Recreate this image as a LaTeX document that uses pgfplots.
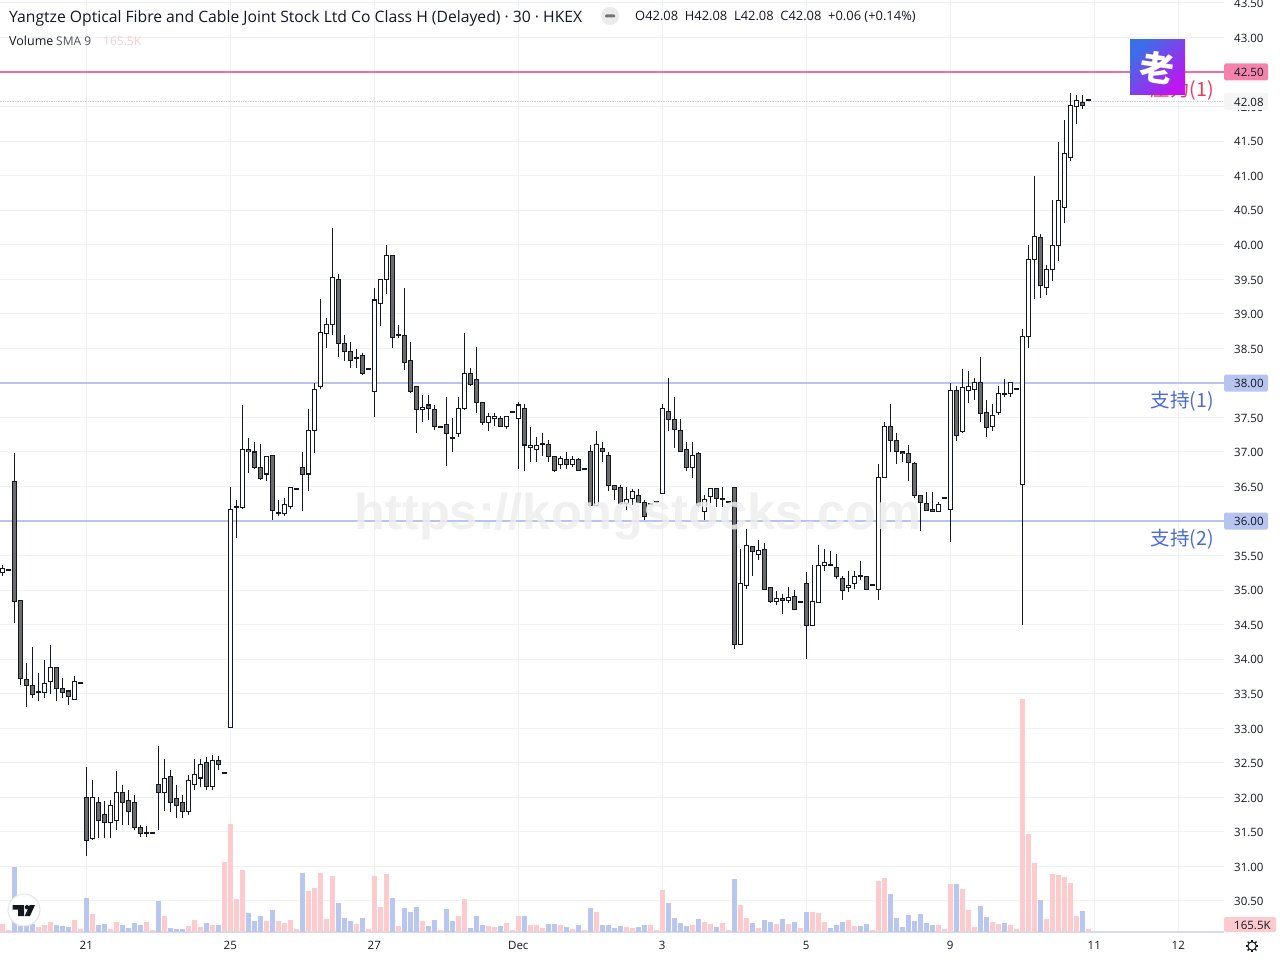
\documentclass[border=0pt]{standalone}
\usepackage{pgfplots}
\usepackage{pgfplotstable}
\usepackage{fontspec}
\pgfplotsset{compat=1.18}
\setmainfont{Open Sans}
\newfontfamily\cjk{Noto Sans CJK SC}
\newfontfamily\wm{Liberation Sans}
\definecolor{gridc}{HTML}{F0F1F4}
\definecolor{ink}{HTML}{131722}
\definecolor{bodyd}{HTML}{6B6B6B}
\definecolor{volup}{HTML}{FDCACE}
\definecolor{voldn}{HTML}{B9C7F0}
\definecolor{res}{HTML}{F26D9C}
\definecolor{sup}{HTML}{B8C4F0}
\definecolor{suptxt}{HTML}{4A6BD6}
\pgfplotstableread{
k lo hi l h
0 35.26 35.32 35.21 35.36
1 35.28 35.295 35.28 35.295
7 33.52 33.65 33.44 33.99
8 33.68 33.88 33.50 34.20
12 33.42 33.68 33.42 33.75
13 33.65 33.665 33.65 33.665
15 31.40 32.00 31.39 32.25
18 31.63 31.88 31.41 31.96
19 31.67 32.07 31.53 32.38
24 31.48 31.495 31.42 31.59
25 31.48 31.495 31.48 31.495
27 32.07 32.28 31.80 32.55
31 31.80 32.24 31.75 32.33
32 32.18 32.33 32.10 32.55
33 32.28 32.47 32.15 32.55
35 32.15 32.54 32.10 32.62
37 32.34 32.355 32.34 32.355
38 33.01 36.17 33.01 36.49
39 36.20 36.215 35.75 36.30
40 36.20 37.04 36.17 37.68
44 36.68 36.94 36.58 36.94
46 36.11 36.125 36.07 36.31
47 36.11 36.24 36.07 36.33
48 36.21 36.49 36.18 36.49
49 36.46 36.475 36.46 36.475
51 36.68 37.31 36.43 37.62
52 37.31 37.91 36.99 38.00
53 37.94 38.73 37.91 39.21
54 38.72 38.84 38.50 38.94
55 38.84 39.52 38.70 40.24
61 38.20 38.215 38.20 38.215
62 37.88 39.20 37.50 39.37
63 39.15 39.49 38.83 39.49
64 39.49 39.85 39.28 40.00
66 38.68 38.695 38.65 38.84
70 37.62 37.65 37.43 37.82
73 37.36 37.375 37.36 37.375
76 37.26 37.63 37.21 37.79
77 37.63 38.14 37.60 38.72
81 37.42 37.52 37.31 37.56
82 37.49 37.52 37.37 37.56
84 37.37 37.52 37.33 37.52
85 37.57 37.585 37.57 37.585
86 37.49 37.68 36.75 37.73
88 37.07 37.10 36.86 37.36
89 37.04 37.10 36.85 37.21
90 37.11 37.125 36.94 37.27
93 36.82 36.91 36.76 36.94
95 36.82 36.89 36.78 36.94
97 36.75 36.765 36.75 36.765
99 36.23 37.11 36.20 37.30
104 36.25 36.31 36.16 36.49
105 36.33 36.43 36.23 36.46
108 36.24 36.255 36.24 36.255
109 36.27 36.285 36.27 36.285
110 36.40 37.63 36.39 37.69
115 36.78 36.95 36.63 37.15
117 36.14 36.31 36.01 36.37
118 36.36 36.47 36.26 36.47
120 36.31 36.325 36.21 36.49
121 36.27 36.285 36.27 36.285
123 34.21 35.10 34.21 35.59
124 35.07 35.65 35.01 35.89
126 35.52 35.57 35.44 35.73
129 34.84 34.88 34.79 34.98
131 34.85 34.89 34.81 35.04
133 34.82 34.835 34.82 34.835
135 34.49 34.84 34.49 35.37
136 34.82 35.36 34.81 35.65
137 35.36 35.40 35.27 35.59
141 35.04 35.07 34.97 35.27
142 35.10 35.20 35.02 35.27
145 35.07 35.085 35.07 35.085
146 35.01 36.63 34.86 36.82
147 36.63 37.37 36.63 37.43
156 36.14 36.24 36.14 36.27
157 36.33 36.345 36.33 36.345
158 36.17 37.89 35.70 38.00
160 37.29 37.94 37.27 38.20
161 37.89 37.95 37.71 38.17
162 37.91 38.01 37.75 38.07
165 37.37 37.53 37.31 37.69
166 37.57 37.85 37.53 37.95
168 37.85 38.00 37.80 38.00
169 37.91 37.925 37.91 37.925
170 36.53 38.67 34.49 38.78
171 38.67 39.78 38.51 39.99
172 39.78 40.12 39.21 41.00
174 39.38 39.64 39.27 39.70
175 39.64 39.99 39.48 40.64
176 39.99 40.64 39.76 41.48
177 40.54 41.32 40.32 41.80
178 41.26 42.01 41.21 42.20
179 42.00 42.09 41.75 42.16
181 42.08 42.095 42.08 42.095
}\upcandles
\pgfplotstableread{
k lo hi l h
2 34.83 36.57 34.53 36.99
3 33.72 34.85 33.63 34.85
4 33.62 33.70 33.31 33.95
5 33.49 33.62 33.44 34.18
6 33.52 33.535 33.39 33.80
9 33.57 33.88 33.39 33.88
10 33.52 33.58 33.44 33.73
11 33.46 33.54 33.34 33.54
14 31.37 32.00 31.15 32.44
16 31.67 31.92 31.41 32.00
17 31.63 31.75 31.41 31.95
20 31.92 32.07 31.60 32.18
21 31.79 31.96 31.60 32.11
22 31.57 31.92 31.53 32.04
23 31.48 31.57 31.42 31.60
26 32.07 32.18 31.53 32.75
28 31.92 32.30 31.79 32.40
29 31.88 31.99 31.70 32.18
30 31.79 31.92 31.70 32.04
34 32.15 32.50 32.10 32.58
36 32.47 32.54 32.40 32.60
41 37.00 37.04 36.70 37.20
42 36.77 37.00 36.76 37.15
43 36.62 36.78 36.60 37.12
45 36.15 36.95 36.01 36.95
50 36.68 36.78 36.15 37.00
56 38.57 39.49 38.38 39.57
57 38.46 38.57 38.31 38.69
58 38.33 38.46 38.21 38.59
59 38.36 38.37 38.21 38.49
60 38.14 38.40 38.11 38.43
65 38.66 39.84 38.50 39.85
67 38.30 38.68 38.18 39.37
68 37.88 38.33 37.86 38.59
69 37.62 37.95 37.28 37.95
71 37.63 37.68 37.46 37.82
72 37.37 37.62 37.32 37.68
74 37.27 37.40 36.80 37.79
75 37.20 37.21 37.00 37.49
78 37.98 38.14 37.96 38.21
79 37.72 38.05 37.57 38.52
80 37.43 37.72 37.39 37.73
83 37.37 37.49 37.37 37.52
87 37.10 37.63 36.73 37.69
91 36.94 37.11 36.85 37.17
92 36.73 36.94 36.71 36.94
94 36.82 36.89 36.76 37.00
96 36.73 36.89 36.73 36.91
98 36.22 37.00 36.22 37.10
100 37.00 37.05 36.85 37.15
101 36.52 36.95 36.44 37.00
102 36.46 36.52 36.31 36.52
103 36.26 36.49 36.23 36.52
106 36.27 36.37 36.26 36.47
107 36.07 36.27 36.02 36.31
111 37.47 37.59 37.31 38.07
112 37.33 37.47 37.06 37.79
113 37.01 37.31 37.01 37.47
114 36.78 37.04 36.73 37.14
116 36.22 36.98 36.20 37.00
119 36.33 36.47 36.21 36.47
122 34.21 36.49 34.15 36.49
125 35.56 35.63 35.21 35.63
127 35.01 35.59 35.00 35.68
128 34.84 35.04 34.81 35.05
130 34.85 34.88 34.65 34.94
132 34.72 34.91 34.72 35.00
134 34.49 35.10 34.00 35.26
138 35.36 35.37 35.36 35.56
139 35.20 35.33 35.16 35.52
140 35.00 35.17 34.86 35.20
143 35.20 35.21 35.15 35.42
144 35.01 35.20 35.01 35.20
148 37.17 37.37 37.00 37.69
149 37.00 37.17 36.83 37.27
150 36.98 37.00 36.86 37.01
151 36.85 36.98 36.58 37.10
152 36.37 36.84 36.33 36.85
153 36.27 36.37 35.86 36.37
154 36.15 36.26 36.15 36.42
155 36.14 36.17 36.14 36.42
159 37.24 37.89 37.16 37.95
163 37.56 38.00 37.43 38.37
164 37.36 37.57 37.21 37.75
167 37.84 37.85 37.80 38.05
173 39.41 40.10 39.23 40.16
180 42.01 42.06 41.97 42.16
}\downcandles
\pgfplotstableread{
k v
0 400
1 100
6 250
7 350
8 500
12 600
13 150
15 900
18 150
19 500
24 500
25 100
27 800
31 300
32 600
33 250
35 350
37 3500
38 5400
39 1650
40 3100
44 550
46 550
47 450
48 600
49 150
51 2050
52 2200
53 2950
54 650
55 2800
59 400
61 150
62 2800
63 1250
64 2900
66 300
70 550
73 100
76 800
77 1650
81 300
82 250
84 450
85 100
86 800
88 350
89 350
90 200
93 350
95 150
97 100
99 1000
104 250
105 200
108 350
109 100
110 2100
115 350
117 500
118 400
120 450
121 100
123 1350
124 700
126 200
129 400
131 400
133 200
135 1000
136 950
137 500
141 600
142 300
145 100
146 2550
147 2700
156 350
157 150
158 2400
160 2150
161 1100
162 250
165 500
166 400
168 350
169 150
170 11650
171 4900
172 3450
174 650
175 2900
176 2850
177 2750
178 2450
179 800
181 165.5
}\volup
\pgfplotstableread{
k v
2 3250
3 300
4 300
5 400
9 350
10 300
11 250
14 1700
16 350
17 400
20 350
21 200
22 450
23 350
26 1550
28 200
29 150
30 150
34 450
36 350
41 950
42 550
43 800
45 1100
50 2950
56 1450
57 700
58 550
60 700
65 1700
67 1200
68 1000
69 1250
71 300
72 600
74 1150
75 550
78 200
79 800
80 350
83 300
87 800
91 400
92 400
94 250
96 350
98 1200
100 350
101 350
102 200
103 300
106 250
107 350
111 1450
112 700
113 450
114 300
116 650
119 250
122 2650
125 450
127 600
128 500
130 650
132 500
134 1000
138 200
139 350
140 500
143 300
144 400
148 1900
149 700
150 250
151 850
152 550
153 900
154 450
155 350
159 2400
163 1300
164 750
167 450
173 1600
180 1050
}\voldown
\newcommand\wicks[1]{\addplot[draw=none, mark=none, error bars/.cd, y dir=both, y explicit, error mark=none, error bar style={line width=1pt, draw=ink}] table[x=k, y expr={(\thisrow{h}+\thisrow{l})/2}, y error expr={(\thisrow{h}-\thisrow{l})/2}] {#1};}
\newcommand\bodies[2]{%
\addplot[draw=none, mark=none, error bars/.cd, y dir=both, y explicit, error mark=none, error bar style={line width=5pt, draw=ink}] table[x=k, y expr={(\thisrow{hi}+\thisrow{lo})/2}, y error expr={(\thisrow{hi}-\thisrow{lo})/2+0.007}] {#1};
\addplot[draw=none, mark=none, error bars/.cd, y dir=both, y explicit, error mark=none, error bar style={line width=3pt, draw=#2}] table[x=k, y expr={(\thisrow{hi}+\thisrow{lo})/2}, y error expr={max(0,(\thisrow{hi}-\thisrow{lo})/2-0.008)}] {#1};}
% volume (thousand shares) on the lower edge of the price pane: 1 px = 50 K, 1 px = 1/69.08 price unit
\newcommand\volbars[2]{\addplot[draw=none, mark=none, error bars/.cd, y dir=minus, y explicit, error mark=none, error bar style={line width=5pt, draw=#2}] table[x=k, y expr={30.051+\thisrow{v}/3454}, y error expr={\thisrow{v}/3454}] {#1};}
\begin{document}
\begin{tikzpicture}[x=1pt,y=1pt]
\useasboundingbox (0,0) rectangle (1280,-960);
\begin{axis}[
  at={(0pt,0pt)}, anchor=north west, scale only axis, width=1224pt, height=932pt,
  xmin=-0.3833, xmax=203.62, ymin=30.051, ymax=43.542,
  axis x line=bottom, axis y line=right,
  x axis line style={draw=sup!50!gridc, line width=1.5pt, -},
  y axis line style={draw=none, -},
  major tick length=0pt,
  grid=major, major grid style={draw=gridc, line width=1pt},
  xtick={14,38,62,86,110,134,158,182,196},
  xticklabels={21,25,27,Dec,3,5,9,11,12},
  ytick={30.5,31,31.5,32,32.5,33,33.5,34,34.5,35,35.5,36,36.5,37,37.5,38,38.5,39,39.5,40,40.5,41,41.5,42,42.5,43,43.5},
  /pgf/number format/fixed, /pgf/number format/fixed zerofill, /pgf/number format/precision=2, /pgf/number format/assume math mode=true,
  tick label style={font=\fontsize{11.5}{14}\selectfont, text=ink, inner sep=0pt},
  y tick label style={anchor=west, xshift=10pt, yshift=-0.7pt},
  x tick label style={anchor=center, yshift=-13pt},
]
\volbars{\volup}{volup}
\volbars{\voldown}{voldn}
\addplot[sup, line width=2pt] coordinates {(-1,38) (204,38)};
\addplot[sup, line width=2pt] coordinates {(-1,36) (204,36)};
\addplot[res, line width=2pt] coordinates {(-1,42.5) (204,42.5)};
\addplot[black!18, line width=0.7pt, densely dotted] coordinates {(-1,42.08) (204,42.08)};
\wicks{\upcandles}
\wicks{\downcandles}
\bodies{\upcandles}{white}
\bodies{\downcandles}{bodyd}
\end{axis}
% watermark
\node[font=\wm\bfseries\fontsize{50.5}{54}\selectfont, text=black!7, opacity=0.85] at (638,-517) {https://kongstocks.com};
% zone labels
\node[anchor=east, text=suptxt, font=\cjk\fontsize{19.5}{22}\selectfont, inner sep=0pt] at (1214,-401) {支持(1)};
\node[anchor=east, text=suptxt, font=\cjk\fontsize{19.5}{22}\selectfont, inner sep=0pt] at (1214,-539) {支持(2)};
\node[anchor=east, text={rgb,255:red,242;green,54;blue,88}, font=\cjk\fontsize{19.5}{22}\selectfont, inner sep=0pt] at (1214,-90) {压力(1)};
% logo
\shade[shading=axis, left color={rgb,255:red,58;green,111;blue,232}, right color={rgb,255:red,192;green,21;blue,240}, shading angle=45] (1130,-40) rectangle (1185,-95);
\node[text=white, font=\cjk\bfseries\fontsize{34}{36}\selectfont, inner sep=0pt, rotate=-8] at (1157.5,-67.5) {老};
% price tags
\foreach \yy/\cc/\lab in {72/res!85!white/42.50, 383/sup/38.00, 521/sup/36.00}{
  \fill[\cc, rounded corners=1.5pt] (1224,-\yy+8.5) rectangle (1268,-\yy-8.5);
  \node[anchor=west, inner sep=0pt, text=ink, font=\fontsize{11.5}{14}\selectfont] at (1234,-\yy-0.7) {\lab};
}
\fill[black!4, rounded corners=1.5pt] (1224,-93) rectangle (1268,-110);
\node[anchor=west, inner sep=0pt, text=ink, font=\fontsize{11.5}{14}\selectfont] at (1234,-102) {42.08};
\fill[volup, rounded corners=1.5pt] (1224,-917) rectangle (1276,-932);
\node[anchor=west, inner sep=0pt, text=ink, font=\fontsize{11.5}{14}\selectfont] at (1234,-925) {165.5K};
% header
\node[anchor=west, inner sep=0pt, text=ink, font=\fontsize{15.7}{18}\selectfont] at (9,-18) {Yangtze Optical Fibre and Cable Joint Stock Ltd Co Class H (Delayed) · 30 · HKEX};
\fill[black!8] (610,-16) circle (9);
\fill[black!55, rounded corners=1pt] (605,-14.5) rectangle (615,-17.5);
\node[anchor=west, inner sep=0pt, text=ink, font=\fontsize{12.9}{15}\selectfont] at (635,-17) {O42.08\ \ H42.08\ \ L42.08\ \ C42.08\ \ +0.06 (+0.14\%)};
\node[anchor=west, inner sep=0pt, text=ink, font=\fontsize{12.5}{15}\selectfont] at (9,-41) {Volume};
\node[anchor=west, inner sep=0pt, text=ink!75, font=\fontsize{12}{15}\selectfont] at (56,-41) {SMA 9};
\node[anchor=west, inner sep=0pt, text=volup, font=\fontsize{12}{15}\selectfont] at (103,-41) {165.5K};
% TV badge
\fill[white, draw=black!10, line width=1pt] (24,-910) circle (16);
\fill[ink] (12.7,-905) -- (24,-905) -- (24,-916) -- (18,-916) -- (18,-909.5) -- (12.7,-909.5) -- cycle;
\fill[ink] (27,-907.2) circle (2.2);
\fill[ink] (29.8,-905) -- (35,-905) -- (30,-916) -- (24.7,-916) -- cycle;
% settings gear
\draw[ink, line width=1pt] (1252,-946) circle (4.2);
\foreach \a in {0,45,...,315}{\draw[ink, line width=1.4pt] (1252,-946)++(\a:4.2) -- ++(\a:2);}
\end{tikzpicture}
\end{document}
